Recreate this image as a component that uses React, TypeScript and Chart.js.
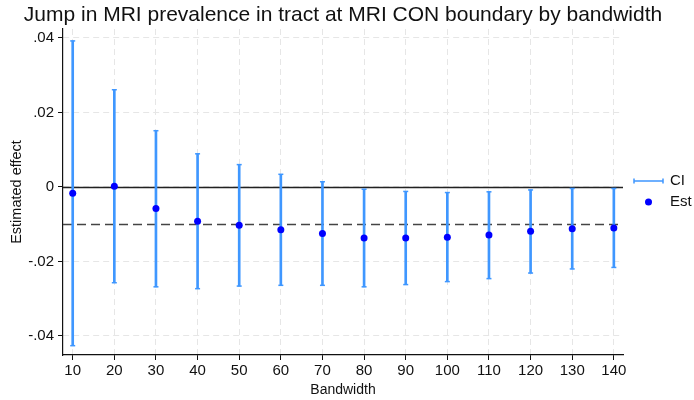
import { useEffect, useRef } from "react";
import { Chart, registerables } from "chart.js";

Chart.register(...registerables);

// Regression-discontinuity estimates by bandwidth
const BANDWIDTHS = [10, 20, 30, 40, 50, 60, 70, 80, 90, 100, 110, 120, 130, 140];
const ESTIMATES = [
  -0.0017, 0.0002, -0.0058, -0.0092, -0.0103, -0.0115, -0.0125, -0.0137, -0.0137, -0.0135, -0.0129,
  -0.0119, -0.0112, -0.011,
];
const CI_LOW = [
  -0.0426, -0.0257, -0.0268, -0.0273, -0.0266, -0.0264, -0.0264, -0.0268, -0.0262, -0.0254, -0.0246,
  -0.0231, -0.022, -0.0216,
];
const CI_HIGH = [
  0.0392, 0.0261, 0.0151, 0.0089, 0.006, 0.0034, 0.0014, -0.0006, -0.0012, -0.0015, -0.0013, -0.0008,
  -0.0004, -0.0004,
];
const MEAN_EFFECT = -0.0099;
const Y_TICKS = [0.04, 0.02, 0, -0.02, -0.04];
const Y_TICK_LABELS = [".04", ".02", "0", "-.02", "-.04"];

const TITLE = "Jump in MRI prevalence in tract at MRI CON boundary by bandwidth";
const FONT = "'Liberation Sans', Arial, Helvetica, sans-serif";
const CI_COLOR = "#3f97ff";
const EST_COLOR = "#0000ff";
const GRID_COLOR = "#e6e6e6";

// Title over the plot region, CI caps, reference lines and the legend
const decorations = {
  id: "decorations",
  beforeDatasetsDraw(chart: any) {
    const { ctx, chartArea, scales } = chart;
    const y = scales.y;
    ctx.save();
    ctx.lineWidth = 1.5;
    ctx.strokeStyle = "#444";
    ctx.setLineDash([9, 5]);
    const ym = Math.round(y.getPixelForValue(MEAN_EFFECT)) + 0.5;
    ctx.beginPath();
    ctx.moveTo(chartArea.left, ym);
    ctx.lineTo(chartArea.right, ym);
    ctx.stroke();
    ctx.setLineDash([]);
    ctx.strokeStyle = "#222";
    const y0 = Math.round(y.getPixelForValue(0)) + 0.5;
    ctx.beginPath();
    ctx.moveTo(chartArea.left, y0);
    ctx.lineTo(chartArea.right, y0);
    ctx.stroke();
    ctx.restore();
  },
  afterDatasetsDraw(chart: any) {
    const { ctx, scales } = chart;
    const x = scales.x;
    const y = scales.y;
    ctx.save();
    ctx.strokeStyle = CI_COLOR;
    ctx.lineWidth = 1.5;
    BANDWIDTHS.forEach((b, i) => {
      const px = x.getPixelForValue(b);
      [CI_LOW[i], CI_HIGH[i]].forEach((v) => {
        const py = y.getPixelForValue(v);
        ctx.beginPath();
        ctx.moveTo(px - 2.5, py);
        ctx.lineTo(px + 2.5, py);
        ctx.stroke();
      });
    });
    ctx.restore();
  },
  afterDraw(chart: any) {
    const { ctx, chartArea } = chart;
    ctx.save();
    // title, centred on the plot region
    ctx.fillStyle = "#111";
    ctx.font = `21px ${FONT}`;
    ctx.textAlign = "center";
    ctx.textBaseline = "middle";
    ctx.fillText(TITLE, (chartArea.left + chartArea.right) / 2, 15);

    // legend
    const cy = (chartArea.top + chartArea.bottom) / 2;
    const x0 = chartArea.right + 11;
    const r1 = cy - 11;
    const r2 = cy + 10;
    ctx.strokeStyle = CI_COLOR;
    ctx.lineWidth = 1.5;
    ctx.beginPath();
    ctx.moveTo(x0, r1);
    ctx.lineTo(x0 + 29, r1);
    ctx.moveTo(x0, r1 - 2.5);
    ctx.lineTo(x0, r1 + 2.5);
    ctx.moveTo(x0 + 29, r1 - 2.5);
    ctx.lineTo(x0 + 29, r1 + 2.5);
    ctx.stroke();
    ctx.fillStyle = EST_COLOR;
    ctx.beginPath();
    ctx.arc(x0 + 14.5, r2, 3.5, 0, Math.PI * 2);
    ctx.fill();
    ctx.fillStyle = "#111";
    ctx.font = `15px ${FONT}`;
    ctx.textAlign = "left";
    ctx.fillText("CI", x0 + 36, r1);
    ctx.fillText("Est", x0 + 36, r2);
    ctx.restore();
  },
};

export default function App() {
  const canvasRef = useRef<HTMLCanvasElement | null>(null);

  useEffect(() => {
    const canvas = canvasRef.current;
    if (!canvas) return;
    const chart = new Chart(canvas, {
      type: "bar",
      data: {
        datasets: [
          {
            type: "scatter",
            label: "Est",
            data: BANDWIDTHS.map((b, i) => ({ x: b, y: ESTIMATES[i] })),
            pointRadius: 3.5,
            pointBackgroundColor: EST_COLOR,
            pointBorderWidth: 0,
            showLine: false,
          } as any,
          {
            type: "bar",
            label: "CI",
            data: BANDWIDTHS.map((b, i) => ({ x: b, y: [CI_LOW[i], CI_HIGH[i]] })),
            backgroundColor: CI_COLOR,
            borderWidth: 0,
            barThickness: 2,
          } as any,
        ],
      },
      options: {
        animation: false,
        responsive: true,
        maintainAspectRatio: false,
        layout: { padding: { left: 0, right: 71, top: 29, bottom: 0 } },
        plugins: {
          legend: { display: false },
          tooltip: { enabled: false },
          title: { display: false },
        },
        scales: {
          x: {
            type: "linear",
            min: 7.67,
            max: 142.2,
            offset: false,
            afterBuildTicks: (s: any) => {
              s.ticks = BANDWIDTHS.map((v) => ({ value: v }));
            },
            afterFit: (s: any) => {
              s.height = 45;
            },
            ticks: {
              color: "#111",
              font: { family: FONT, size: 15 },
              padding: 2,
              maxRotation: 0,
              autoSkip: false,
              callback: (v: any) => String(v),
            },
            grid: {
              color: GRID_COLOR,
              lineWidth: 1,
              tickLength: 5,
              tickColor: "#111",
              tickWidth: 1,
              tickBorderDash: [],
              offset: false,
            },
            border: { display: true, color: "#111", width: 1.2, dash: [6, 4] },
            title: {
              display: true,
              text: "Bandwidth",
              color: "#111",
              font: { family: FONT, size: 14 },
              padding: { top: 0, bottom: 1 },
            },
          },
          y: {
            type: "linear",
            min: -0.0451,
            max: 0.0424,
            afterBuildTicks: (s: any) => {
              s.ticks = Y_TICKS.map((v) => ({ value: v }));
            },
            afterFit: (s: any) => {
              s.width = 63;
            },
            ticks: {
              color: "#111",
              font: { family: FONT, size: 15 },
              padding: 4,
              callback: (v: any) => {
                const i = Y_TICKS.findIndex((t) => Math.abs(t - Number(v)) < 1e-9);
                return i >= 0 ? Y_TICK_LABELS[i] : "";
              },
            },
            grid: {
              color: GRID_COLOR,
              lineWidth: 1,
              tickLength: 5,
              tickColor: "#111",
              tickWidth: 1,
              tickBorderDash: [],
            },
            border: { display: true, color: "#111", width: 1.2, dash: [6, 4] },
            title: {
              display: true,
              text: "Estimated effect",
              color: "#111",
              font: { family: FONT, size: 14.5 },
              padding: { top: 8, bottom: 0 },
            },
          },
        },
      } as any,
      plugins: [decorations],
    });
    return () => chart.destroy();
  }, []);

  return (
    <div style={{ position: "fixed", left: 0, top: 0, width: 694, height: 400, background: "#fff" }}>
      <canvas ref={canvasRef} />
    </div>
  );
}
